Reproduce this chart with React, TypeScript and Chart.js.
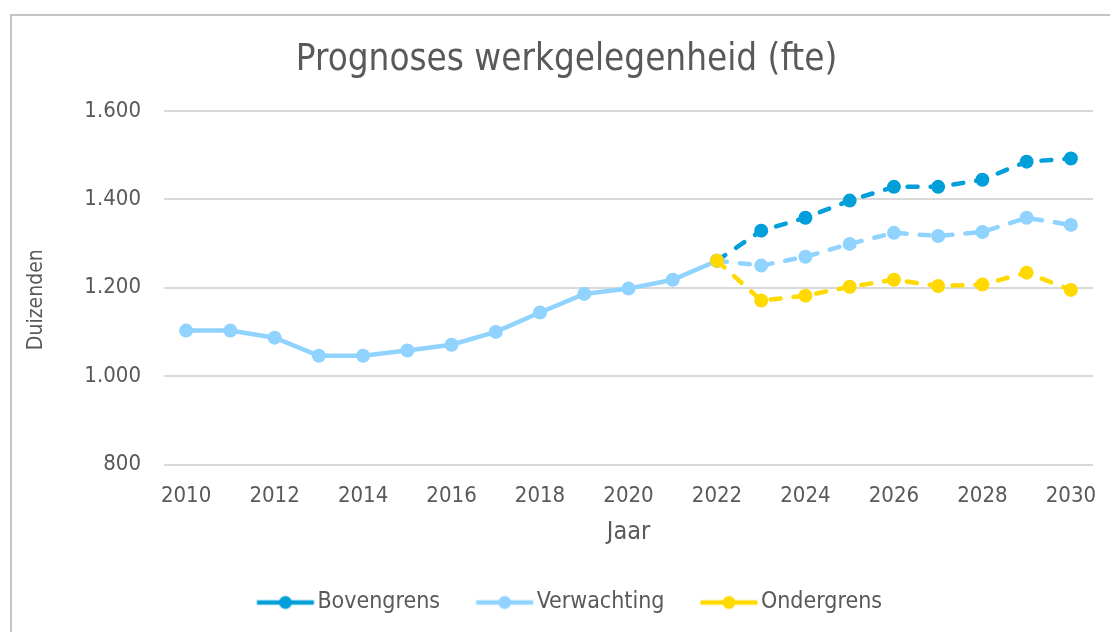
import React, { useEffect, useRef } from "react";
import { Chart, registerables } from "chart.js";

Chart.register(...registerables);

const years = [
  "2010", "2011", "2012", "2013", "2014", "2015", "2016", "2017", "2018", "2019", "2020",
  "2021", "2022", "2023", "2024", "2025", "2026", "2027", "2028", "2029", "2030",
];
const bovengrens = [
  null, null, null, null, null, null, null, null, null, null, null, null,
  1261, 1329, 1358, 1397, 1428, 1428, 1444, 1485, 1492,
];
const verwachting = [
  1103, 1103, 1087, 1046, 1046, 1058, 1071, 1100, 1144, 1186, 1198, 1218,
  1261, 1250, 1270, 1299, 1324, 1317, 1326, 1358, 1342,
];
const ondergrens = [
  null, null, null, null, null, null, null, null, null, null, null, null,
  1261, 1171, 1182, 1202, 1218, 1204, 1207, 1234, 1195,
];
const yTicks = [800, 1000, 1200, 1400, 1600];

const FONT = "'DejaVu Sans Condensed', 'DejaVu Sans', sans-serif";
const TEXT = "#595959";
const C_BOVEN = "#009FDA";
const C_VERW = "#8FD3FE";
const C_ONDER = "#FFD900";
const DASH = [10, 13];

function legendIcon(color: string): HTMLCanvasElement {
  const c = document.createElement("canvas");
  c.width = 60;
  c.height = 16;
  const ctx = c.getContext("2d")!;
  ctx.strokeStyle = color;
  ctx.lineWidth = 4.5;
  ctx.lineCap = "butt";
  ctx.beginPath();
  ctx.moveTo(1.5, 8);
  ctx.lineTo(58.5, 8);
  ctx.stroke();
  ctx.fillStyle = color;
  ctx.beginPath();
  ctx.arc(30, 8, 6.5, 0, Math.PI * 2);
  ctx.fill();
  return c;
}

function fmt(v: number): string {
  if (v >= 1000) {
    return Math.floor(v / 1000) + "." + String(v % 1000).padStart(3, "0");
  }
  return String(v);
}

const blockShift = {
  id: "blockShift",
  afterLayout(chart: any) {
    const lg = chart.legend;
    if (lg) {
      lg.left += 15;
      lg.right += 15;
    }
    const tb = chart.titleBlock;
    if (tb) {
      tb.left += 8;
      tb.right += 8;
    }
  },
};

export default function App() {
  const ref = useRef<HTMLCanvasElement | null>(null);

  useEffect(() => {
    if (!ref.current) return;
    const icons = [legendIcon(C_BOVEN), legendIcon(C_VERW), legendIcon(C_ONDER)];
    const common = {
      borderWidth: 4.5,
      pointRadius: 7,
      pointHoverRadius: 7,
      pointBorderWidth: 0,
      tension: 0,
      borderCapStyle: "round" as const,
      spanGaps: false,
    };
    const chart = new Chart(ref.current, {
      type: "line",
      plugins: [blockShift],
      data: {
        labels: years,
        datasets: [
          {
            ...common,
            label: "Bovengrens",
            data: bovengrens,
            borderColor: C_BOVEN,
            backgroundColor: C_BOVEN,
            pointBackgroundColor: C_BOVEN,
            borderDash: DASH,
            order: 2,
          },
          {
            ...common,
            label: "Verwachting",
            data: verwachting,
            borderColor: C_VERW,
            backgroundColor: C_VERW,
            pointBackgroundColor: C_VERW,
            segment: {
              borderDash: (ctx: any) => (ctx.p0DataIndex >= 12 ? DASH : undefined),
            },
            order: 1,
          },
          {
            ...common,
            label: "Ondergrens",
            data: ondergrens,
            borderColor: C_ONDER,
            backgroundColor: C_ONDER,
            pointBackgroundColor: C_ONDER,
            borderDash: DASH,
            order: 0,
          },
        ],
      },
      options: {
        responsive: false,
        animation: false,
        devicePixelRatio: 1,
        layout: { padding: { left: 24, right: 17, top: 0, bottom: 8 } },
        plugins: {
          tooltip: { enabled: false },
          title: {
            display: true,
            text: "Prognoses werkgelegenheid (fte)",
            color: TEXT,
            font: { family: FONT, size: 36.5, weight: "normal" },
            padding: { top: 39, bottom: 28 },
          },
          legend: {
            position: "bottom",
            sort: (a: any, b: any) => a.datasetIndex - b.datasetIndex,
            labels: {
              color: TEXT,
              font: { family: FONT, size: 23 },
              usePointStyle: true,
              pointStyleWidth: 41,
              padding: 44,
              generateLabels: (ch: any) => {
                return ch.data.datasets.map((ds: any, i: number) => ({
                  text: ds.label,
                  fillStyle: ds.borderColor,
                  strokeStyle: ds.borderColor,
                  lineWidth: 0,
                  pointStyle: icons[i],
                  hidden: false,
                  datasetIndex: i,
                  fontColor: TEXT,
                }));
              },
            },
          },
        },
        scales: {
          x: {
            offset: true,
            grid: { display: false },
            border: { display: false },
            ticks: {
              autoSkip: false,
              maxRotation: 0,
              color: TEXT,
              font: { family: FONT, size: 22 },
              padding: 10,
              callback: (_v: any, i: number) => (i % 2 === 0 ? years[i] : ""),
            },
            title: {
              display: true,
              text: "Jaar",
              color: TEXT,
              font: { family: FONT, size: 25 },
              padding: { top: -2, bottom: 0 },
            },
          },
          y: {
            min: 800,
            max: 1600,
            afterBuildTicks: (s: any) => {
              s.ticks = yTicks.map((v) => ({ value: v }));
            },
            grid: { color: "#D9D9D9", lineWidth: 2, drawTicks: false },
            border: { display: false },
            ticks: {
              color: TEXT,
              font: { family: FONT, size: 22 },
              padding: 23,
              callback: (v: any) => fmt(Number(v)),
            },
            title: {
              display: true,
              text: "Duizenden    ",
              color: TEXT,
              font: { family: FONT, size: 21 },
              padding: { top: 0, bottom: 6 },
            },
            afterFit: (s: any) => {
              s.width = 140;
            },
          },
        },
      },
    });
    return () => chart.destroy();
  }, []);

  return (
    <div
      style={{
        position: "absolute",
        left: 0,
        top: 0,
        width: 1110,
        height: 632,
        overflow: "hidden",
        background: "#fff",
      }}
    >
      <div
        style={{
          position: "absolute",
          left: 10,
          top: 14,
          width: 1200,
          height: 800,
          borderLeft: "2px solid #C4C4C4",
          borderTop: "2px solid #C4C4C4",
        }}
      />
      <canvas
        ref={ref}
        width={1110}
        height={632}
        style={{ position: "absolute", left: 0, top: 0, width: 1110, height: 632 }}
      />
    </div>
  );
}
